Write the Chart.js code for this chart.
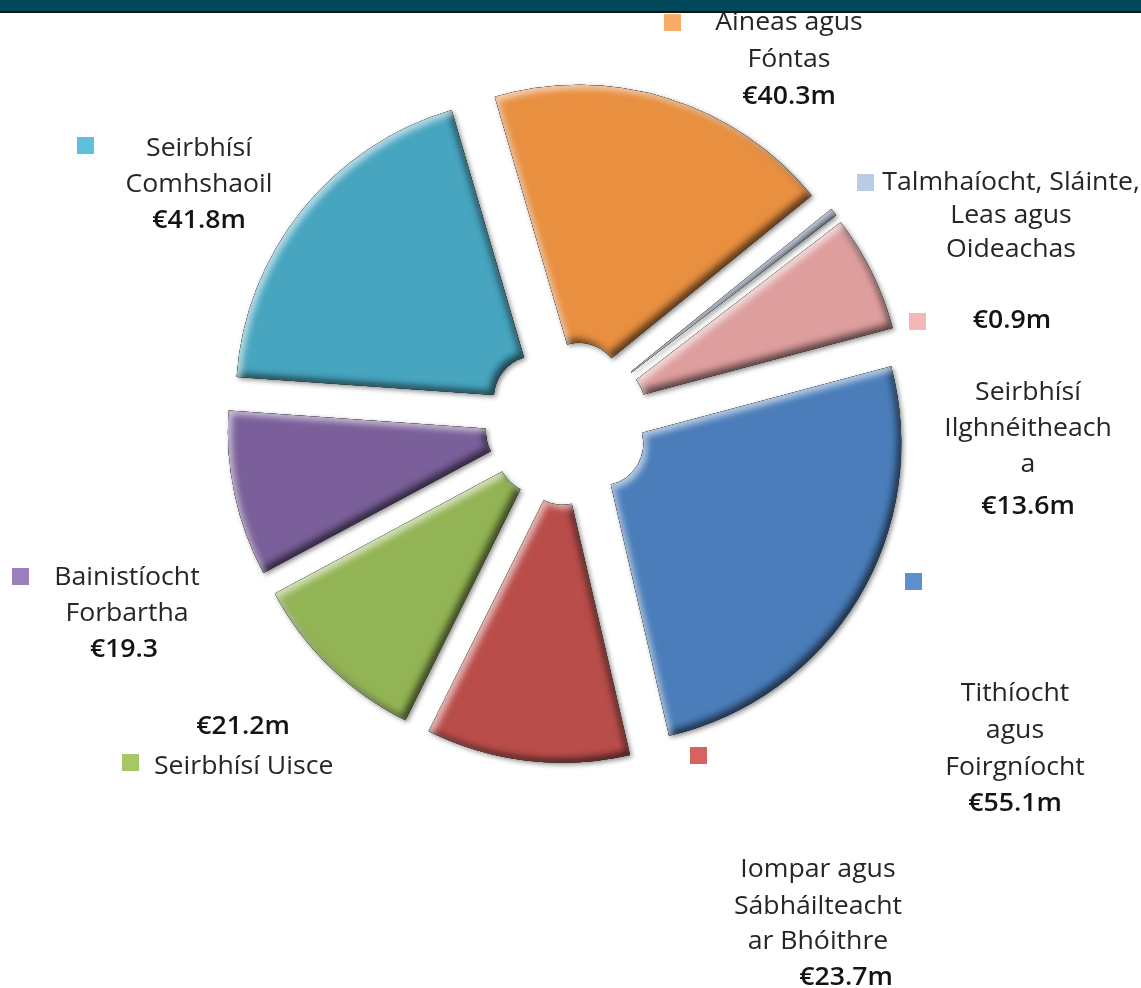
<!DOCTYPE html>
<html>
<head>
<meta charset="utf-8">
<script src="https://cdn.jsdelivr.net/npm/chart.js"></script>
<style>
  body { margin: 0; background: #fff; }
  #wrap { position: relative; width: 1141px; height: 988px; }
</style>
</head>
<body>
<div id="wrap"><canvas id="costChart" width="1141" height="988"></canvas></div>
<script>
// category names (split into the lines the labels use)
const categories = [
  ["Áineas agus", "Fóntas"],
  ["Talmhaíocht, Sláinte,", "Leas agus", "Oideachas"],
  ["Seirbhísí", "Ilghnéitheach", "a"],
  ["Tithíocht", "agus", "Foirgníocht"],
  ["Iompar agus", "Sábháilteacht", "ar Bhóithre"],
  ["Seirbhísí Uisce"],
  ["Bainistíocht", "Forbartha"],
  ["Seirbhísí", "Comhshaoil"]
];
const values = [40.3, 0.9, 13.6, 55.1, 23.7, 21.2, 19.3, 41.8];
const valueLabels = ["€40.3m", "€0.9m", "€13.6m", "€55.1m", "€23.7m", "€21.2m", "€19.3", "€41.8m"];

const sliceColors = ["#e88f40", "#7e97c4", "#de9e9e", "#4a7dba", "#b94d4a", "#93b455", "#7a5f9a", "#47a5bf"];
const keyColors = ["#f9ac66", "#b8cce4", "#f5b7b7", "#5b8fd2", "#d8625e", "#a5c865", "#9b80bd", "#5ec0da"];

// where each label sits: key square, text x, line y's, value position
const labelLayout = [
  { key: [664, 14], x: 789, ys: [21, 58], value: [789, 95] },
  { key: [857, 174], x: 1011, ys: [181, 214, 248], value: [1012, 319] },
  { key: [909, 313], x: 1028, ys: [391, 427, 463], value: [1028, 505] },
  { key: [905, 573], x: 1015, ys: [692, 729, 766], value: [1015, 802] },
  { key: [690, 747], x: 818, ys: [868, 905, 940], value: [846, 976] },
  { key: [122, 754], x: 154, ys: [765], value: [243, 725], align: "left" },
  { key: [12, 568], x: 127, ys: [576, 612], value: [124, 648] },
  { key: [77, 137], x: 199, ys: [147, 183], value: [199, 219] }
];

const EXPLODE = 40;
const STRETCH = 1.065;

function drawSlice(ctx, el) {
  const mid = (el.startAngle + el.endAngle) / 2;
  ctx.save();
  ctx.translate(Math.cos(mid) * EXPLODE, Math.sin(mid) * EXPLODE);
  const origFill = ctx.fill;
  ctx.fill = function () {
    // base fill with a soft drop shadow
    ctx.save();
    ctx.shadowColor = "rgba(0,0,0,0.45)";
    ctx.shadowBlur = 5;
    ctx.shadowOffsetX = 2;
    ctx.shadowOffsetY = 2;
    origFill.call(ctx);
    ctx.restore();
    // bevel: inner shadow bottom-right, highlight top-left
    ctx.save();
    ctx.clip();
    ctx.rect(-3000, -3000, 6000, 6000);
    ctx.fillStyle = "#000";
    ctx.shadowBlur = 7;
    ctx.shadowColor = "rgba(0,0,0,0.6)";
    ctx.shadowOffsetX = -4;
    ctx.shadowOffsetY = -4;
    origFill.call(ctx, "evenodd");
    ctx.shadowBlur = 6;
    ctx.shadowColor = "rgba(255,255,255,0.6)";
    ctx.shadowOffsetX = 4;
    ctx.shadowOffsetY = 4;
    origFill.call(ctx, "evenodd");
    ctx.restore();
  };
  ctx.stroke = function () {};
  el.draw(ctx);
  delete ctx.fill;
  delete ctx.stroke;
  ctx.restore();
}

const explodePlugin = {
  id: "explode",
  beforeDatasetDraw(chart, args) {
    const ctx = chart.ctx;
    args.meta.data.forEach(el => drawSlice(ctx, el));
    return false;
  }
};

function wideText(ctx, text, x, y) {
  ctx.save();
  ctx.translate(x, y);
  ctx.scale(STRETCH, 1);
  ctx.fillText(text, 0, 0);
  ctx.restore();
}

const labelPlugin = {
  id: "labels",
  afterDraw(chart) {
    const ctx = chart.ctx;
    ctx.save();
    labelLayout.forEach((l, i) => {
      ctx.fillStyle = keyColors[i];
      ctx.fillRect(l.key[0], l.key[1], 17, 17);
      ctx.textAlign = l.align || "center";
      ctx.textBaseline = "alphabetic";
      ctx.fillStyle = "#262626";
      ctx.font = "25px 'Open Sans'";
      categories[i].forEach((line, j) => wideText(ctx, line, l.x, l.ys[j] + 9));
      ctx.textAlign = "center";
      ctx.fillStyle = "#141414";
      ctx.font = "600 25px 'Open Sans'";
      wideText(ctx, valueLabels[i], l.value[0], l.value[1] + 9);
    });
    // header band
    ctx.fillStyle = "#02485a";
    ctx.fillRect(0, 0, chart.width, 11);
    ctx.fillStyle = "#111";
    ctx.fillRect(0, 11, chart.width, 2);
    ctx.restore();
  }
};

new Chart(document.getElementById("costChart"), {
  type: "doughnut",
  data: {
    labels: categories.map(c => c.join(" ")),
    datasets: [{
      data: values,
      backgroundColor: sliceColors,
      borderWidth: 0
    }]
  },
  options: {
    responsive: false,
    animation: false,
    events: [],
    rotation: -16.3,
    cutout: "14%",
    radius: 300,
    layout: { padding: { left: 0, right: 7, top: 0, bottom: 142 } },
    plugins: {
      legend: { display: false },
      tooltip: { enabled: false }
    }
  },
  plugins: [explodePlugin, labelPlugin]
});
</script>
</body>
</html>
